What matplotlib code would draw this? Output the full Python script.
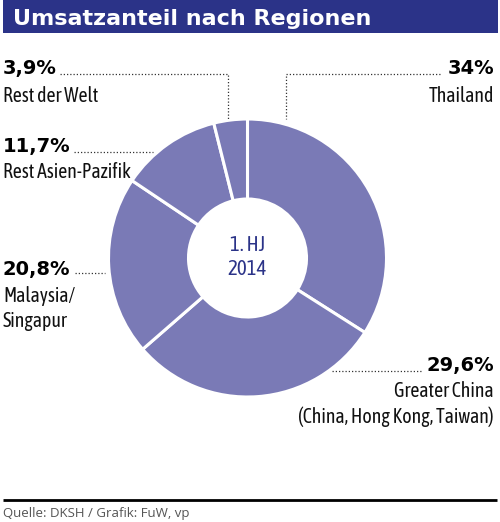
import matplotlib
matplotlib.use("Agg")
import matplotlib.pyplot as plt

# ---- data ----
regions = ["Thailand", "Greater China", "Malaysia/Singapur", "Rest Asien-Pazifik", "Rest der Welt"]
shares = [34.0, 29.6, 20.8, 11.7, 3.9]
pct_labels = ["34%", "29,6%", "20,8%", "11,7%", "3,9%"]
title = "Umsatzanteil nach Regionen"
center_text = "1. HJ\n2014"
source = "Quelle: DKSH / Grafik: FuW, vp"

W, H = 500, 522
fig = plt.figure(figsize=(W / 100, H / 100), dpi=100)
ax = fig.add_axes([0, 0, 1, 1])

def Y(y):
    return H - y

COND = ["Asap Condensed", "Barlow Semi Condensed", "Liberation Sans"]
BOLD = ["DejaVu Sans"]
wedge_color = "#7a7ab6"
navy = "#2b3388"

# donut
cx, cy, R = 247.5, 258, 139
ax.pie(shares, startangle=90, counterclock=False, center=(cx, Y(cy)), radius=R,
       colors=[wedge_color] * len(shares),
       wedgeprops=dict(width=R - 59, edgecolor="white", linewidth=2.2),
       frame=True)
ax.set_xlim(0, W)
ax.set_ylim(0, H)
ax.set_aspect("equal")
ax.axis("off")

# title bar
ax.add_patch(plt.Rectangle((3, Y(33)), 495, 33, color=navy, lw=0))
ax.text(13, Y(25), title, color="white", fontsize=16, fontweight="bold",
        family=BOLD, va="baseline", ha="left")

ax.text(cx, Y(257), center_text, ha="center", va="center", color=navy,
        fontsize=15, family=COND, linespacing=1.25)

# labels
def pct(x, y, s, ha):
    ax.text(x, Y(y), s, ha=ha, va="baseline", fontsize=14, fontweight="bold",
            family=BOLD, color="black")

def lab(x, y, s, ha):
    ax.text(x, Y(y), s, ha=ha, va="baseline", fontsize=14.2, family=COND,
            color="#111111")

dot = dict(color="#333333", lw=0.9, linestyle=(0, (1, 1.6)))

def leader(xs, ys):
    ax.plot(xs, [Y(v) for v in ys], **dot)

# Rest der Welt
pct(3, 74, pct_labels[4], "left")
lab(3, 102, regions[4], "left")
leader([60, 228, 228], [74, 74, 119])
# Thailand
pct(494, 74, pct_labels[0], "right")
lab(494, 102, regions[0], "right")
leader([440, 286, 286], [74, 74, 119])
# Rest Asien-Pazifik
pct(3, 152, pct_labels[3], "left")
lab(3, 178, regions[3], "left")
leader([74, 153], [152, 152])
# Malaysia/Singapur
pct(3, 275, pct_labels[2], "left")
lab(3, 302, "Malaysia/", "left")
lab(3, 327, "Singapur", "left")
leader([75, 105], [273, 273])
# Greater China
pct(494, 371, pct_labels[1], "right")
lab(494, 397, regions[1], "right")
lab(494, 423, "(China, Hong Kong, Taiwan)", "right")
leader([332, 423], [371, 371])

# footer
ax.plot([3, 497], [Y(500), Y(500)], color="black", lw=2.0, solid_capstyle="butt")
ax.text(3, Y(517), source, ha="left", va="baseline", fontsize=9.5,
        family=["Open Sans", "DejaVu Sans"], color="#555555")

fig.savefig("out.png", dpi=100)
